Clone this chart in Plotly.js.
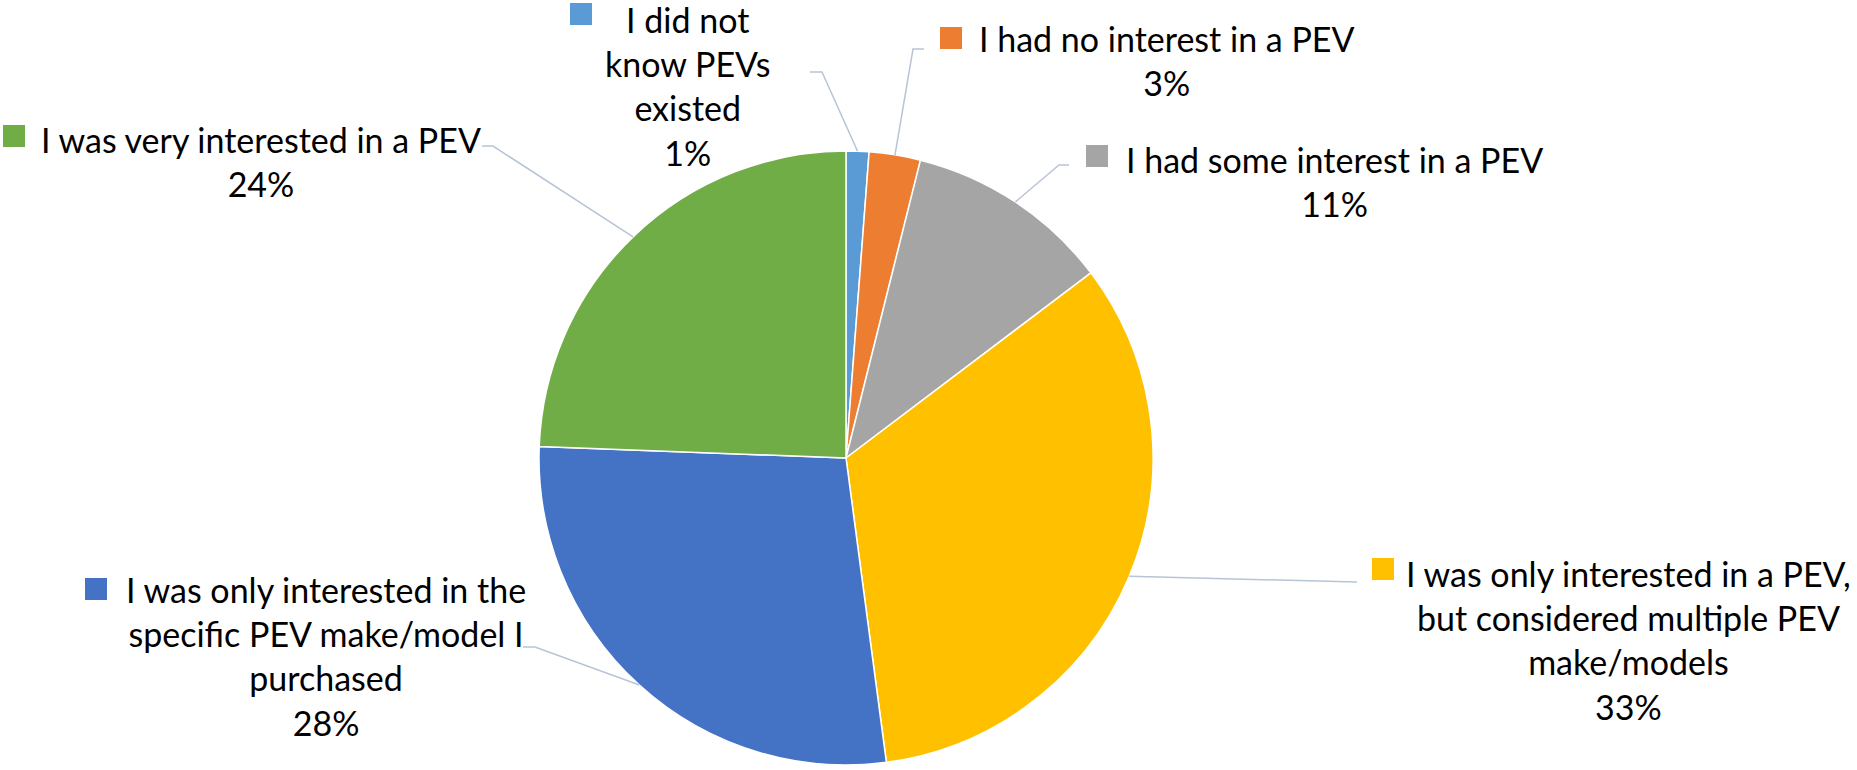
<!DOCTYPE html>
<html>
<head>
<meta charset="utf-8">
<script src="https://cdn.plot.ly/plotly-3.0.1.min.js"></script>
<style>html,body{margin:0;padding:0;background:#fff;}#chart{width:1857px;height:770px;}</style>
</head>
<body>
<div id="chart"></div>
<script>
// ---- data ----
const categories = [
  "I did not know PEVs existed",
  "I had no interest in a PEV",
  "I had some interest in a PEV",
  "I was only interested in a PEV, but considered multiple PEV make/models",
  "I was only interested in the specific PEV make/model I purchased",
  "I was very interested in a PEV"
];
const values = [1.2, 2.7, 10.8, 33.2, 27.7, 24.4];
const labelLines = [
  ["I did not", "know PEVs", "existed"],
  ["I had no interest in a PEV"],
  ["I had some interest in a PEV"],
  ["I was only interested in a PEV,", "but considered multiple PEV", "make/models"],
  ["I was only interested in the", "specific PEV make/model I", "purchased"],
  ["I was very interested in a PEV"]
];
const colors = ["#5B9BD5", "#ED7D31", "#A5A5A5", "#FFC000", "#4472C4", "#70AD47"];

// ---- layout helpers (pixel -> paper) ----
const W = 1857, H = 770;
const px = x => x / W;
const py = y => 1 - y / H;
const cx = 846, cy = 458, R = 307;

// label block centres, legend-key squares and leader elbows (layout positions, pixels)
const labelPos = [[687, 86], [1167, 61], [1334, 181], [1628, 640], [326, 656], [261, 162]];
const keyPos   = [[570, 3], [940, 27], [1086, 145], [1372, 558], [85, 578], [3, 125]];
const elbows   = [[[810, 72], [822, 72]], [[924, 49], [913, 49]], [[1069, 165], [1059, 165]],
                  [[1357, 582], [1357, 582]], [[523, 647], [535, 647]], [[482, 146], [493, 146]]];

const total = values.reduce((a, b) => a + b, 0);
let cum = 0;
const shapes = [];
const annotations = [];
values.forEach((v, i) => {
  const mid = (cum + v / 2) / total * 2 * Math.PI;
  cum += v;
  const ex = cx + R * Math.sin(mid), ey = cy - R * Math.cos(mid);
  const e = elbows[i];
  shapes.push({
    type: "path", xref: "paper", yref: "paper",
    path: `M ${px(e[0][0])} ${py(e[0][1])} L ${px(e[1][0])} ${py(e[1][1])} L ${px(ex)} ${py(ey)}`,
    line: {color: "#B7C4D7", width: 1.5}
  });
  const k = keyPos[i];
  shapes.push({
    type: "rect", xref: "paper", yref: "paper",
    x0: px(k[0]), x1: px(k[0] + 22), y0: py(k[1]), y1: py(k[1] + 22),
    fillcolor: colors[i], line: {width: 0}
  });
  const pct = Math.round(v / total * 100) + "%";
  annotations.push({
    xref: "paper", yref: "paper", x: px(labelPos[i][0]), y: py(labelPos[i][1]),
    xanchor: "center", yanchor: "middle", align: "center", showarrow: false,
    text: labelLines[i].concat([pct]).join("<br>"),
    font: {family: "Lato, 'Open Sans', sans-serif", size: 34, color: "#000"}
  });
});

const trace = {
  type: "pie",
  labels: categories,
  values: values,
  sort: false,
  direction: "clockwise",
  rotation: 0,
  textinfo: "none",
  hoverinfo: "label+percent",
  marker: {colors: colors, line: {color: "#FFFFFF", width: 1.5}},
  domain: {x: [px(cx - R), px(cx + R)], y: [py(cy + R), py(cy - R)]},
  showlegend: false
};

Plotly.newPlot("chart", [trace], {
  width: W, height: H,
  margin: {l: 0, r: 0, t: 0, b: 0},
  paper_bgcolor: "#FFFFFF",
  showlegend: false,
  shapes: shapes,
  annotations: annotations
}, {displayModeBar: false, staticPlot: true});
</script>
</body>
</html>
